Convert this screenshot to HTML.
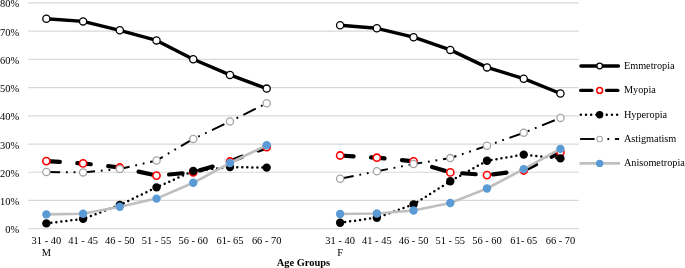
<!DOCTYPE html>
<html><head><meta charset="utf-8"><style>
html,body{margin:0;padding:0;background:#fff;width:685px;height:268px;overflow:hidden}
svg{display:block;filter:blur(0.35px)}
.t{font-family:"Liberation Serif",serif}
</style></head><body>
<svg width="685" height="268" viewBox="0 0 685 268">
<line x1="28.0" y1="2.90" x2="578.8" y2="2.90" stroke="#D9D9D9" stroke-width="1.2"/>
<line x1="28.0" y1="31.12" x2="578.8" y2="31.12" stroke="#D9D9D9" stroke-width="1.2"/>
<line x1="28.0" y1="59.35" x2="578.8" y2="59.35" stroke="#D9D9D9" stroke-width="1.2"/>
<line x1="28.0" y1="87.58" x2="578.8" y2="87.58" stroke="#D9D9D9" stroke-width="1.2"/>
<line x1="28.0" y1="115.80" x2="578.8" y2="115.80" stroke="#D9D9D9" stroke-width="1.2"/>
<line x1="28.0" y1="144.03" x2="578.8" y2="144.03" stroke="#D9D9D9" stroke-width="1.2"/>
<line x1="28.0" y1="172.25" x2="578.8" y2="172.25" stroke="#D9D9D9" stroke-width="1.2"/>
<line x1="28.0" y1="200.47" x2="578.8" y2="200.47" stroke="#D9D9D9" stroke-width="1.2"/>
<line x1="28.0" y1="228.70" x2="578.8" y2="228.70" stroke="#D9D9D9" stroke-width="1.2"/>
<text transform="translate(19.20 7.40) scale(0.25)" font-size="41.80" text-anchor="end" fill="#000" class="t">80%</text>
<text transform="translate(19.20 35.62) scale(0.25)" font-size="41.80" text-anchor="end" fill="#000" class="t">70%</text>
<text transform="translate(19.20 63.85) scale(0.25)" font-size="41.80" text-anchor="end" fill="#000" class="t">60%</text>
<text transform="translate(19.20 92.08) scale(0.25)" font-size="41.80" text-anchor="end" fill="#000" class="t">50%</text>
<text transform="translate(19.20 120.30) scale(0.25)" font-size="41.80" text-anchor="end" fill="#000" class="t">40%</text>
<text transform="translate(19.20 148.53) scale(0.25)" font-size="41.80" text-anchor="end" fill="#000" class="t">30%</text>
<text transform="translate(19.20 176.75) scale(0.25)" font-size="41.80" text-anchor="end" fill="#000" class="t">20%</text>
<text transform="translate(19.20 204.97) scale(0.25)" font-size="41.80" text-anchor="end" fill="#000" class="t">10%</text>
<text transform="translate(19.20 233.20) scale(0.25)" font-size="41.80" text-anchor="end" fill="#000" class="t">0%</text>
<polyline points="46.36,18.80 83.08,21.40 119.80,30.30 156.52,40.40 193.24,59.30 229.96,74.90 266.68,88.60" stroke="#000" stroke-width="3.4" fill="none" stroke-linejoin="round"/>
<polyline points="340.12,25.20 376.84,28.30 413.56,37.20 450.28,49.90 487.00,67.40 523.72,78.70 560.44,93.50" stroke="#000" stroke-width="3.4" fill="none" stroke-linejoin="round"/>
<circle cx="46.36" cy="18.80" r="3.6" fill="#fff" stroke="#000" stroke-width="1.3"/>
<circle cx="83.08" cy="21.40" r="3.6" fill="#fff" stroke="#000" stroke-width="1.3"/>
<circle cx="119.80" cy="30.30" r="3.6" fill="#fff" stroke="#000" stroke-width="1.3"/>
<circle cx="156.52" cy="40.40" r="3.6" fill="#fff" stroke="#000" stroke-width="1.3"/>
<circle cx="193.24" cy="59.30" r="3.6" fill="#fff" stroke="#000" stroke-width="1.3"/>
<circle cx="229.96" cy="74.90" r="3.6" fill="#fff" stroke="#000" stroke-width="1.3"/>
<circle cx="266.68" cy="88.60" r="3.6" fill="#fff" stroke="#000" stroke-width="1.3"/>
<circle cx="340.12" cy="25.20" r="3.6" fill="#fff" stroke="#000" stroke-width="1.3"/>
<circle cx="376.84" cy="28.30" r="3.6" fill="#fff" stroke="#000" stroke-width="1.3"/>
<circle cx="413.56" cy="37.20" r="3.6" fill="#fff" stroke="#000" stroke-width="1.3"/>
<circle cx="450.28" cy="49.90" r="3.6" fill="#fff" stroke="#000" stroke-width="1.3"/>
<circle cx="487.00" cy="67.40" r="3.6" fill="#fff" stroke="#000" stroke-width="1.3"/>
<circle cx="523.72" cy="78.70" r="3.6" fill="#fff" stroke="#000" stroke-width="1.3"/>
<circle cx="560.44" cy="93.50" r="3.6" fill="#fff" stroke="#000" stroke-width="1.3"/>
<polyline points="46.36,161.10 83.08,163.40 119.80,167.50 156.52,175.60 193.24,172.30 229.96,161.50 266.68,147.20" stroke="#000" stroke-width="4.2" fill="none" stroke-linecap="round" stroke-linejoin="round" stroke-dasharray="13.5 17.5"/>
<polyline points="340.12,155.50 376.84,157.70 413.56,161.30 450.28,172.40 487.00,175.10 523.72,170.50 560.44,152.30" stroke="#000" stroke-width="4.2" fill="none" stroke-linecap="round" stroke-linejoin="round" stroke-dasharray="13.5 17.5"/>
<circle cx="46.36" cy="161.10" r="3.6" fill="#fff" stroke="#FF0000" stroke-width="1.6"/>
<circle cx="83.08" cy="163.40" r="3.6" fill="#fff" stroke="#FF0000" stroke-width="1.6"/>
<circle cx="119.80" cy="167.50" r="3.6" fill="#fff" stroke="#FF0000" stroke-width="1.6"/>
<circle cx="156.52" cy="175.60" r="3.6" fill="#fff" stroke="#FF0000" stroke-width="1.6"/>
<circle cx="193.24" cy="172.30" r="3.6" fill="#fff" stroke="#FF0000" stroke-width="1.6"/>
<circle cx="229.96" cy="161.50" r="3.6" fill="#fff" stroke="#FF0000" stroke-width="1.6"/>
<circle cx="266.68" cy="147.20" r="3.6" fill="#fff" stroke="#FF0000" stroke-width="1.6"/>
<circle cx="340.12" cy="155.50" r="3.6" fill="#fff" stroke="#FF0000" stroke-width="1.6"/>
<circle cx="376.84" cy="157.70" r="3.6" fill="#fff" stroke="#FF0000" stroke-width="1.6"/>
<circle cx="413.56" cy="161.30" r="3.6" fill="#fff" stroke="#FF0000" stroke-width="1.6"/>
<circle cx="450.28" cy="172.40" r="3.6" fill="#fff" stroke="#FF0000" stroke-width="1.6"/>
<circle cx="487.00" cy="175.10" r="3.6" fill="#fff" stroke="#FF0000" stroke-width="1.6"/>
<circle cx="523.72" cy="170.50" r="3.6" fill="#fff" stroke="#FF0000" stroke-width="1.6"/>
<circle cx="560.44" cy="152.30" r="3.6" fill="#fff" stroke="#FF0000" stroke-width="1.6"/>
<polyline points="46.36,223.40 83.08,218.90 119.80,205.00 156.52,187.40 193.24,171.00 229.96,167.10 266.68,167.60" stroke="#000" stroke-width="2.5" fill="none" stroke-linecap="round" stroke-dasharray="0 5.035"/>
<polyline points="340.12,222.70 376.84,217.70 413.56,204.40 450.28,181.20 487.00,160.70 523.72,154.60 560.44,158.40" stroke="#000" stroke-width="2.5" fill="none" stroke-linecap="round" stroke-dasharray="0 5.035"/>
<circle cx="46.36" cy="223.40" r="4.2" fill="#000"/>
<circle cx="83.08" cy="218.90" r="4.2" fill="#000"/>
<circle cx="119.80" cy="205.00" r="4.2" fill="#000"/>
<circle cx="156.52" cy="187.40" r="4.2" fill="#000"/>
<circle cx="193.24" cy="171.00" r="4.2" fill="#000"/>
<circle cx="229.96" cy="167.10" r="4.2" fill="#000"/>
<circle cx="266.68" cy="167.60" r="4.2" fill="#000"/>
<circle cx="340.12" cy="222.70" r="4.2" fill="#000"/>
<circle cx="376.84" cy="217.70" r="4.2" fill="#000"/>
<circle cx="413.56" cy="204.40" r="4.2" fill="#000"/>
<circle cx="450.28" cy="181.20" r="4.2" fill="#000"/>
<circle cx="487.00" cy="160.70" r="4.2" fill="#000"/>
<circle cx="523.72" cy="154.60" r="4.2" fill="#000"/>
<circle cx="560.44" cy="158.40" r="4.2" fill="#000"/>
<polyline points="46.36,172.00 83.08,172.40 119.80,169.00 156.52,160.50 193.24,138.90 229.96,121.50 266.68,103.30" stroke="#000" stroke-width="2" fill="none" stroke-dasharray="13.78 5.84 1.81 5.84 1.81 5.84"/>
<polyline points="340.12,178.80 376.84,171.30 413.56,164.00 450.28,158.10 487.00,145.80 523.72,132.80 560.44,117.90" stroke="#000" stroke-width="2" fill="none" stroke-dasharray="13.78 5.84 1.81 5.84 1.81 5.84"/>
<circle cx="46.36" cy="172.00" r="3.6" fill="#fff" stroke="#A5A5A5" stroke-width="1.3"/>
<circle cx="83.08" cy="172.40" r="3.6" fill="#fff" stroke="#A5A5A5" stroke-width="1.3"/>
<circle cx="119.80" cy="169.00" r="3.6" fill="#fff" stroke="#A5A5A5" stroke-width="1.3"/>
<circle cx="156.52" cy="160.50" r="3.6" fill="#fff" stroke="#A5A5A5" stroke-width="1.3"/>
<circle cx="193.24" cy="138.90" r="3.6" fill="#fff" stroke="#A5A5A5" stroke-width="1.3"/>
<circle cx="229.96" cy="121.50" r="3.6" fill="#fff" stroke="#A5A5A5" stroke-width="1.3"/>
<circle cx="266.68" cy="103.30" r="3.6" fill="#fff" stroke="#A5A5A5" stroke-width="1.3"/>
<circle cx="340.12" cy="178.80" r="3.6" fill="#fff" stroke="#A5A5A5" stroke-width="1.3"/>
<circle cx="376.84" cy="171.30" r="3.6" fill="#fff" stroke="#A5A5A5" stroke-width="1.3"/>
<circle cx="413.56" cy="164.00" r="3.6" fill="#fff" stroke="#A5A5A5" stroke-width="1.3"/>
<circle cx="450.28" cy="158.10" r="3.6" fill="#fff" stroke="#A5A5A5" stroke-width="1.3"/>
<circle cx="487.00" cy="145.80" r="3.6" fill="#fff" stroke="#A5A5A5" stroke-width="1.3"/>
<circle cx="523.72" cy="132.80" r="3.6" fill="#fff" stroke="#A5A5A5" stroke-width="1.3"/>
<circle cx="560.44" cy="117.90" r="3.6" fill="#fff" stroke="#A5A5A5" stroke-width="1.3"/>
<polyline points="46.36,214.40 83.08,213.70 119.80,206.70 156.52,198.60 193.24,182.80 229.96,163.00 266.68,145.30" stroke="#BFBFBF" stroke-width="2.6" fill="none" stroke-linejoin="round"/>
<polyline points="340.12,214.00 376.84,213.50 413.56,210.50 450.28,203.00 487.00,188.50 523.72,169.10 560.44,148.90" stroke="#BFBFBF" stroke-width="2.6" fill="none" stroke-linejoin="round"/>
<circle cx="46.36" cy="214.40" r="4.2" fill="#5B9BD5"/>
<circle cx="83.08" cy="213.70" r="4.2" fill="#5B9BD5"/>
<circle cx="119.80" cy="206.70" r="4.2" fill="#5B9BD5"/>
<circle cx="156.52" cy="198.60" r="4.2" fill="#5B9BD5"/>
<circle cx="193.24" cy="182.80" r="4.2" fill="#5B9BD5"/>
<circle cx="229.96" cy="163.00" r="4.2" fill="#5B9BD5"/>
<circle cx="266.68" cy="145.30" r="4.2" fill="#5B9BD5"/>
<circle cx="340.12" cy="214.00" r="4.2" fill="#5B9BD5"/>
<circle cx="376.84" cy="213.50" r="4.2" fill="#5B9BD5"/>
<circle cx="413.56" cy="210.50" r="4.2" fill="#5B9BD5"/>
<circle cx="450.28" cy="203.00" r="4.2" fill="#5B9BD5"/>
<circle cx="487.00" cy="188.50" r="4.2" fill="#5B9BD5"/>
<circle cx="523.72" cy="169.10" r="4.2" fill="#5B9BD5"/>
<circle cx="560.44" cy="148.90" r="4.2" fill="#5B9BD5"/>
<text transform="translate(46.36 244.40) scale(0.25)" font-size="41.80" text-anchor="middle" fill="#000" class="t">31 - 40</text>
<text transform="translate(83.08 244.40) scale(0.25)" font-size="41.80" text-anchor="middle" fill="#000" class="t">41 - 45</text>
<text transform="translate(119.80 244.40) scale(0.25)" font-size="41.80" text-anchor="middle" fill="#000" class="t">46 - 50</text>
<text transform="translate(156.52 244.40) scale(0.25)" font-size="41.80" text-anchor="middle" fill="#000" class="t">51 - 55</text>
<text transform="translate(193.24 244.40) scale(0.25)" font-size="41.80" text-anchor="middle" fill="#000" class="t">56 - 60</text>
<text transform="translate(229.96 244.40) scale(0.25)" font-size="41.80" text-anchor="middle" fill="#000" class="t">61- 65</text>
<text transform="translate(266.68 244.40) scale(0.25)" font-size="41.80" text-anchor="middle" fill="#000" class="t">66 - 70</text>
<text transform="translate(340.12 244.40) scale(0.25)" font-size="41.80" text-anchor="middle" fill="#000" class="t">31 - 40</text>
<text transform="translate(376.84 244.40) scale(0.25)" font-size="41.80" text-anchor="middle" fill="#000" class="t">41 - 45</text>
<text transform="translate(413.56 244.40) scale(0.25)" font-size="41.80" text-anchor="middle" fill="#000" class="t">46 - 50</text>
<text transform="translate(450.28 244.40) scale(0.25)" font-size="41.80" text-anchor="middle" fill="#000" class="t">51 - 55</text>
<text transform="translate(487.00 244.40) scale(0.25)" font-size="41.80" text-anchor="middle" fill="#000" class="t">56 - 60</text>
<text transform="translate(523.72 244.40) scale(0.25)" font-size="41.80" text-anchor="middle" fill="#000" class="t">61- 65</text>
<text transform="translate(560.44 244.40) scale(0.25)" font-size="41.80" text-anchor="middle" fill="#000" class="t">66 - 70</text>
<text transform="translate(46.36 256.00) scale(0.25)" font-size="41.80" text-anchor="middle" fill="#000" class="t">M</text>
<text transform="translate(340.12 256.00) scale(0.25)" font-size="41.80" text-anchor="middle" fill="#000" class="t">F</text>
<text transform="translate(303.40 265.80) scale(0.25)" font-size="41.80" text-anchor="middle" font-weight="bold" fill="#000" class="t">Age Groups</text>
<line x1="580.9" y1="66.0" x2="618.4" y2="66.0" stroke="#000" stroke-width="3.4" stroke-linecap="round"/>
<circle cx="599.65" cy="66.0" r="2.8" fill="#fff" stroke="#000" stroke-width="1.25"/>
<text transform="translate(623.90 68.70) scale(0.25)" font-size="41.00" fill="#000" class="t">Emmetropia</text>
<line x1="580.7" y1="90.4" x2="591.9" y2="90.4" stroke="#000" stroke-width="3.4" stroke-linecap="round"/>
<line x1="606.6" y1="90.4" x2="617.8" y2="90.4" stroke="#000" stroke-width="3.4" stroke-linecap="round"/>
<circle cx="599.65" cy="90.4" r="2.9" fill="#fff" stroke="#FF0000" stroke-width="1.5"/>
<text transform="translate(623.90 93.10) scale(0.25)" font-size="41.00" fill="#000" class="t">Myopia</text>
<circle cx="580.80" cy="114.8" r="1.25" fill="#000"/>
<circle cx="585.99" cy="114.8" r="1.25" fill="#000"/>
<circle cx="591.18" cy="114.8" r="1.25" fill="#000"/>
<circle cx="596.37" cy="114.8" r="1.25" fill="#000"/>
<circle cx="601.56" cy="114.8" r="1.25" fill="#000"/>
<circle cx="606.75" cy="114.8" r="1.25" fill="#000"/>
<circle cx="611.94" cy="114.8" r="1.25" fill="#000"/>
<circle cx="617.13" cy="114.8" r="1.25" fill="#000"/>
<circle cx="599.65" cy="114.8" r="3.7" fill="#000"/>
<text transform="translate(623.90 117.50) scale(0.25)" font-size="41.00" fill="#000" class="t">Hyperopia</text>
<line x1="580.1" y1="139.0" x2="594.6" y2="139.0" stroke="#000" stroke-width="1.9"/>
<line x1="607.4" y1="139.0" x2="609.2" y2="139.0" stroke="#000" stroke-width="1.9"/>
<line x1="614.9" y1="139.0" x2="619.1" y2="139.0" stroke="#000" stroke-width="1.9"/>
<circle cx="599.65" cy="139.0" r="2.8" fill="#fff" stroke="#A6A6A6" stroke-width="1.1"/>
<text transform="translate(623.90 141.70) scale(0.25)" font-size="41.00" fill="#000" class="t">Astigmatism</text>
<line x1="579.5" y1="163.4" x2="620" y2="163.4" stroke="#BFBFBF" stroke-width="2.8"/>
<circle cx="599.65" cy="163.4" r="3.7" fill="#5B9BD5"/>
<text transform="translate(623.90 166.10) scale(0.25)" font-size="41.00" fill="#000" class="t">Anisometropia</text>
</svg>
</body></html>
